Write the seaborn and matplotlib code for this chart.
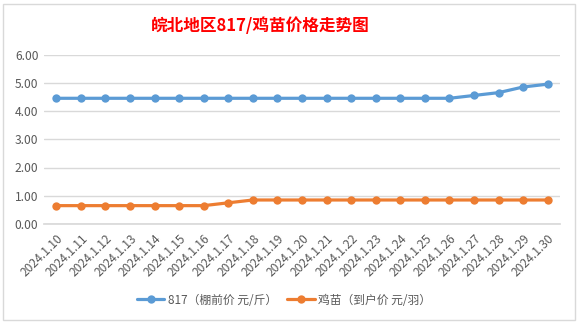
import matplotlib
matplotlib.use("Agg")
import matplotlib.pyplot as plt
import seaborn as sns
import pandas as pd
from matplotlib.patches import Rectangle

dates = ["2024.1.10", "2024.1.11", "2024.1.12", "2024.1.13", "2024.1.14", "2024.1.15",
         "2024.1.16", "2024.1.17", "2024.1.18", "2024.1.19", "2024.1.20", "2024.1.21",
         "2024.1.22", "2024.1.23", "2024.1.24", "2024.1.25", "2024.1.26", "2024.1.27",
         "2024.1.28", "2024.1.29", "2024.1.30"]
price_817 = [4.45, 4.45, 4.45, 4.45, 4.45, 4.45, 4.45, 4.45, 4.45, 4.45, 4.45, 4.45,
             4.45, 4.45, 4.45, 4.45, 4.45, 4.55, 4.65, 4.85, 4.95]
price_chick = [0.65, 0.65, 0.65, 0.65, 0.65, 0.65, 0.65, 0.75, 0.85, 0.85, 0.85, 0.85,
               0.85, 0.85, 0.85, 0.85, 0.85, 0.85, 0.85, 0.85, 0.85]
series_names = ["817（棚前价 元/斤）", "鸡苗（到户价 元/羽）"]
title = "皖北地区817/鸡苗价格走势图"

sns.set_theme(style="white")
plt.rcParams["font.family"] = ["Noto Sans CJK SC", "DejaVu Sans"]

df = pd.DataFrame({
    "date": dates * 2,
    "idx": list(range(len(dates))) * 2,
    "price": price_817 + price_chick,
    "series": [series_names[0]] * len(dates) + [series_names[1]] * len(dates),
})

W, H = 577, 324
fig = plt.figure(figsize=(W / 100, H / 100), dpi=100)
ax = fig.add_axes([44 / W, 1 - 224 / H, (560 - 44) / W, (224 - 54.5) / H])

palette = {series_names[0]: "#5B9BD5", series_names[1]: "#ED7D31"}
sns.lineplot(data=df, x="idx", y="price", hue="series", palette=palette,
             marker="o", markersize=6, markeredgewidth=0, linewidth=2.3,
             sort=False, ax=ax, legend=True)

ax.set_ylim(0, 6)
ax.set_yticks([0, 1, 2, 3, 4, 5, 6])
ax.set_yticklabels([f"{v:.2f}" for v in range(7)])
ax.set_xlim(-0.5, len(dates) - 0.5)
ax.set_xticks(range(len(dates)))
ax.set_xticklabels(dates, rotation=45, ha="right", rotation_mode="anchor")
ax.tick_params(axis="both", colors="#595959", labelsize=8.7, length=0, pad=4)
ax.tick_params(axis="x", pad=6)
ax.set_xlabel("")
ax.set_ylabel("")
ax.grid(axis="y", color="#D9D9D9", linewidth=1)
ax.grid(axis="x", visible=False)
for side in ["top", "right", "left"]:
    ax.spines[side].set_visible(False)
ax.spines["bottom"].set_color("#D9D9D9")

handles, labels = ax.get_legend_handles_labels()
ax.legend(handles, labels, loc="center", bbox_to_anchor=(284 / W, 1 - 300 / H),
          bbox_transform=fig.transFigure, ncol=2, frameon=False, fontsize=8.5,
          labelcolor="#595959", handlelength=2.3, columnspacing=0.9, handletextpad=0.3)

fig.text(260 / W, 1 - 26 / H, title, color="#FF0000", fontsize=12,
         fontweight="bold", ha="center", va="center")

fig.patches.append(Rectangle((3 / W, 1 - 320 / H), 572 / W, 316 / H,
                             transform=fig.transFigure, fill=False,
                             edgecolor="#D9D9D9", linewidth=1))

fig.savefig("out.png", dpi=100, facecolor="white")
